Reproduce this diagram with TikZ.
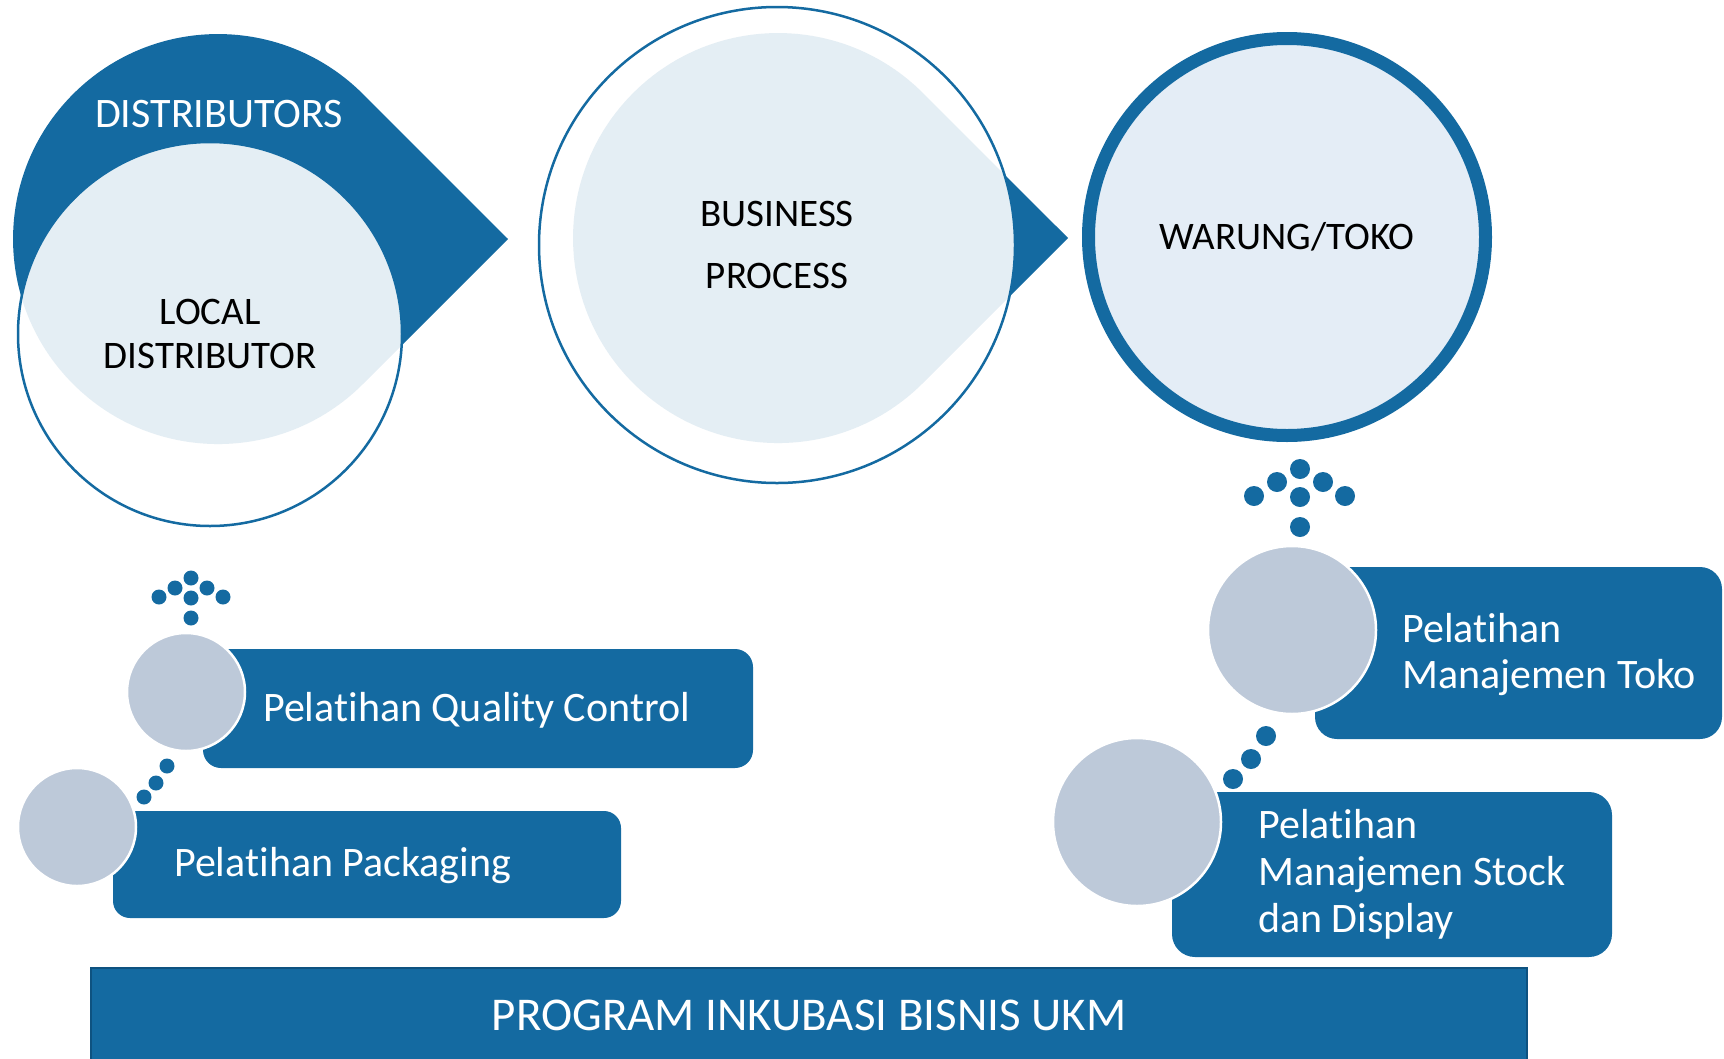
\documentclass[tikz,border=0pt]{standalone}
\usepackage{fontspec}
\setmainfont{Carlito}[Ligatures=NoCommon]
\usepackage{tikz}
\definecolor{azulOscuro}{RGB}{20,106,161}
\definecolor{azulClaro}{RGB}{228,237,246}
\definecolor{grisAzul}{RGB}{189,201,217}
\definecolor{azulBorde}{RGB}{14,82,128}
\tikzstyle{gota}  =[fill=azulOscuro]
\tikzstyle{aro}   =[circle, draw=azulOscuro, line width=2.5pt,
                    fill=white, fill opacity=0.885, text opacity=1,
                    align=center, inner sep=0pt]
\tikzstyle{bola}  =[circle, draw=white, line width=2.5pt,
                    fill=grisAzul, inner sep=0pt]
\tikzstyle{punto} =[circle, fill=azulOscuro, minimum size=15pt,
                    inner sep=0pt]
\tikzstyle{bpunto}=[circle, fill=azulOscuro, minimum size=20pt,
                    inner sep=0pt]
\tikzstyle{caja}  =[rectangle, fill=azulOscuro, inner sep=0pt]
\tikzstyle{texto} =[text=white, align=left, anchor=west,
                    inner sep=0pt]
\begin{document}
\begin{tikzpicture}[x=1pt,y=-1pt]
    \useasboundingbox (0,0) rectangle (1724,1058);

    % gotas
    \foreach \cx/\cy in {218/239,778/238}
        \fill [gota] (\cx+290,\cy) -- (\cx+145,\cy+145)
            arc [start angle=45, end angle=315, radius=205] -- cycle;

    \draw (219,114.5) node(dist)[text=white,
        font=\fontsize{42}{48}\selectfont] {DISTRIBUTORS};

    \draw (210,334) node(local)[aro, minimum size=384,
        font=\fontsize{39}{44}\selectfont] {LOCAL\\DISTRIBUTOR};
    \draw (777,245) node(bisnis)[aro, minimum size=476,
        font=\fontsize{39}{61.5}\selectfont] {BUSINESS\\PROCESS};
    \draw (1287,237) node(warung)[circle, draw=azulOscuro, line width=13pt,
        fill=azulClaro, minimum size=397,
        font=\fontsize{39}{44}\selectfont] {WARUNG/TOKO};

    % puntos
    \foreach \a/\b [count=\i] in {191/578,175/588,207/588,159/597,223/597,
        191/598,191/618,167/766,156/783,144/797}
        \draw (\a,\b) node(p\i)[punto]{};
    \foreach \a/\b [count=\i] in {1300/469,1277/482,1323/482,1254/496,
        1345/496,1300/497,1300/527,1266/736,1251/759,1233/779}
        \draw (\a,\b) node(q\i)[bpunto]{};

    % cajas
    \draw (478,708.5) node(qcCaja)[caja, minimum width=550,
        minimum height=119, rounded corners=18pt]{};
    \draw (367,864.5) node(packCaja)[caja, minimum width=508,
        minimum height=107, rounded corners=17pt]{};
    \draw (1518.5,653) node(tokoCaja)[caja, minimum width=407,
        minimum height=172, rounded corners=22pt]{};
    \draw (1392,874.5) node(stockCaja)[caja, minimum width=440,
        minimum height=165, rounded corners=23pt]{};

    % bolas
    \draw (186,692) node(qcBola)[bola, minimum size=118]{};
    \draw (77,827) node(packBola)[bola, minimum size=118]{};
    \draw (1292,630) node(tokoBola)[bola, minimum size=168]{};
    \draw (1137,822) node(stockBola)[bola, minimum size=168]{};

    % textos
    \draw (263,710) node(qcTxt)[texto,
        font=\fontsize{42}{46}\selectfont] {Pelatihan Quality Control};
    \draw (174,866) node(packTxt)[texto,
        font=\fontsize{42}{46}\selectfont] {Pelatihan Packaging};
    \draw (1402,655) node(tokoTxt)[texto,
        font=\fontsize{42}{46}\selectfont] {Pelatihan\\Manajemen Toko};
    \draw (1258,874) node(stockTxt)[texto,
        font=\fontsize{42}{47}\selectfont]
        {Pelatihan\\Manajemen Stock\\dan Display};

    % barra
    \draw (809,1015) node(programa)[caja, draw=azulBorde, line width=2pt,
        minimum width=1436, minimum height=94, text=white,
        font=\fontsize{47}{52}\selectfont] {PROGRAM INKUBASI BISNIS UKM};

\end{tikzpicture}
\end{document}
